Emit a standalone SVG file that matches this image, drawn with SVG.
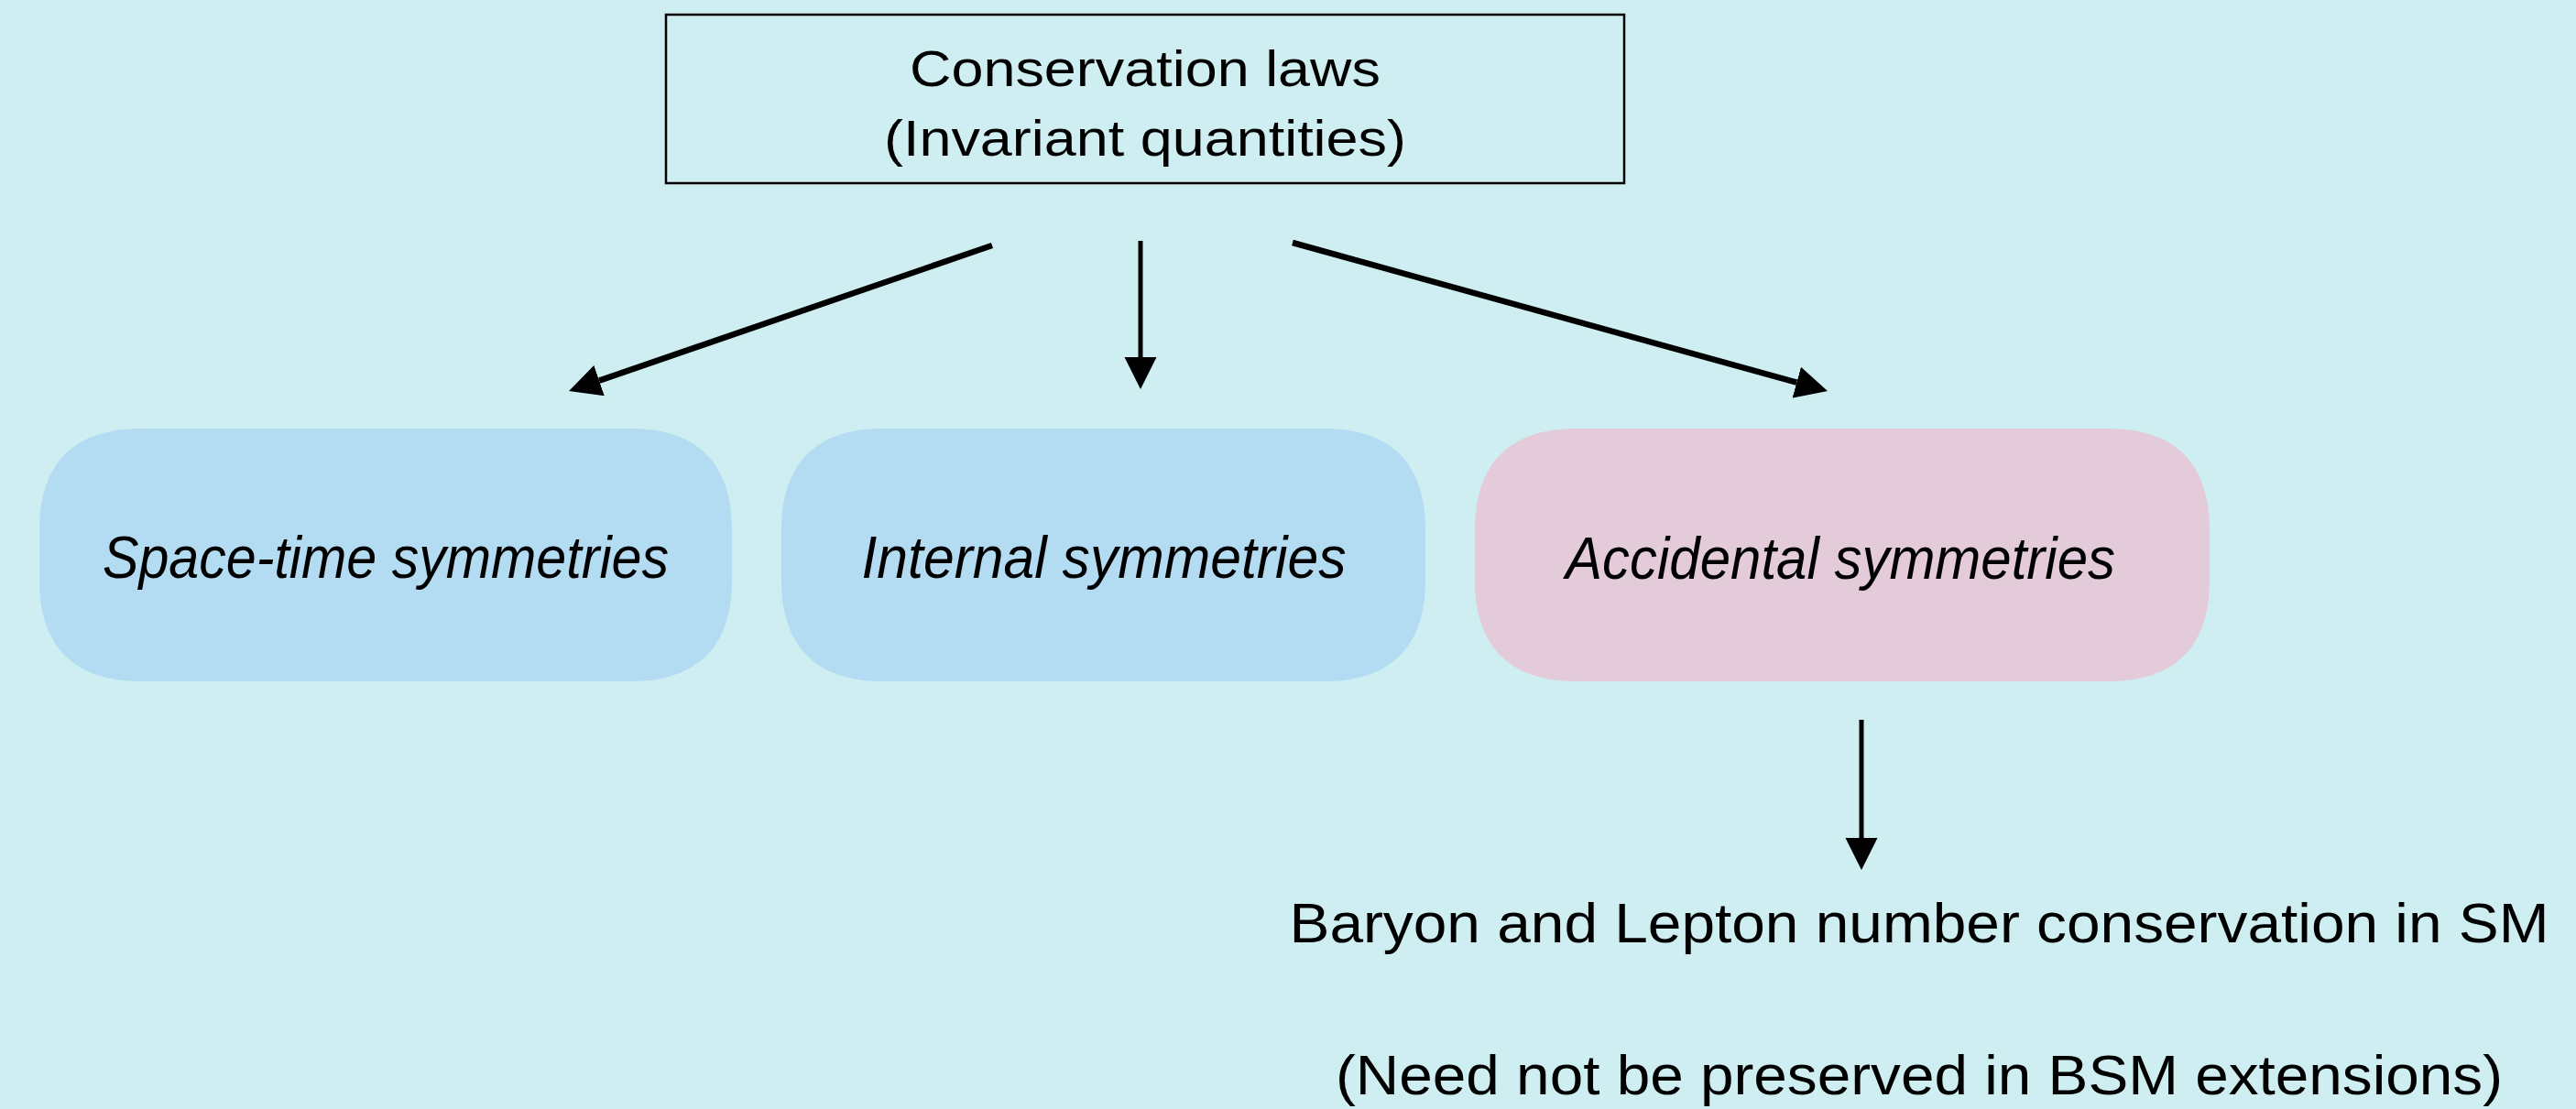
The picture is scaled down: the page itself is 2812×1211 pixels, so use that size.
<svg xmlns="http://www.w3.org/2000/svg" width="2812" height="1211" viewBox="0 0 2812 1211">
  <defs>
    <style>
      .bg { fill: #CFEEF1; }
      .title-box { fill: none; stroke: #000; stroke-width: 2.5; }
      .sym { stroke: none; }
      .sym-blue { fill: #B3DCF3; }
      .sym-pink { fill: #E4CBDA; }
      .label { font-family: "Liberation Sans", Arial, sans-serif; fill: #000; text-anchor: middle; }
      .title { font-size: 56px; }
      .node-label { font-size: 64px; font-style: italic; }
      .note { font-size: 62px; }
      .edge { stroke: #000; fill: none; }
      .edge-diag { stroke-width: 6.5; }
      .edge-vert { stroke-width: 5; }
    </style>
    <!-- Arrowhead: the line ends at the head's base, the head extends 35px forward -->
    <marker id="head" markerUnits="userSpaceOnUse" markerWidth="36" markerHeight="36" refX="0" refY="17.5" orient="auto" viewBox="0 0 36 36">
      <path d="M0,0 L35,17.5 L0,35 Z" fill="#000"/>
    </marker>
  </defs>

  <rect class="bg" x="0" y="0" width="2812" height="1211"/>

  <!-- Root: conservation laws -->
  <g id="conservation-laws">
    <rect class="title-box" x="727" y="16" width="1046" height="184"/>
    <text class="label title" x="1250" y="94" textLength="514" lengthAdjust="spacingAndGlyphs">Conservation laws</text>
    <text class="label title" x="1250" y="170" textLength="570" lengthAdjust="spacingAndGlyphs">(Invariant quantities)</text>
  </g>

  <!-- Symmetry classes (soft squircle-like corners) -->
  <g id="space-time-symmetries">
    <path class="sym sym-blue" d="M153,468 H689 C761,468 799,506 799,578 V634 C799,706 761,744 689,744 H153 C81,744 43,706 43,634 V578 C43,506 81,468 153,468 Z"/>
    <text class="label node-label" x="421" y="631" textLength="618" lengthAdjust="spacingAndGlyphs">Space-time symmetries</text>
  </g>

  <g id="internal-symmetries">
    <path class="sym sym-blue" d="M963,468 H1446 C1518,468 1556,506 1556,578 V634 C1556,706 1518,744 1446,744 H963 C891,744 853,706 853,634 V578 C853,506 891,468 963,468 Z"/>
    <text class="label node-label" x="1205" y="631" textLength="529" lengthAdjust="spacingAndGlyphs">Internal symmetries</text>
  </g>

  <g id="accidental-symmetries">
    <path class="sym sym-pink" d="M1720,468 H2302 C2374,468 2412,506 2412,578 V634 C2412,706 2374,744 2302,744 H1720 C1648,744 1610,706 1610,634 V578 C1610,506 1648,468 1720,468 Z"/>
    <text class="label node-label" x="2009" y="632" textLength="600" lengthAdjust="spacingAndGlyphs">Accidental symmetries</text>
  </g>

  <!-- Consequence of accidental symmetries -->
  <g id="baryon-lepton-conservation">
    <text class="label note" x="2095" y="1029" textLength="1375" lengthAdjust="spacingAndGlyphs">Baryon and Lepton number conservation in SM</text>
    <text class="label note" x="2095" y="1195" textLength="1274" lengthAdjust="spacingAndGlyphs">(Need not be preserved in BSM extensions)</text>
  </g>

  <!-- Connectors -->
  <g id="connectors">
    <line class="edge edge-diag" x1="1083" y1="268" x2="654.1" y2="415.6" marker-end="url(#head)"/>
    <line class="edge edge-vert" x1="1245" y1="263" x2="1245" y2="390" marker-end="url(#head)"/>
    <line class="edge edge-diag" x1="1411" y1="265" x2="1961.3" y2="417.6" marker-end="url(#head)"/>
    <line class="edge edge-vert" x1="2032" y1="786" x2="2032" y2="915" marker-end="url(#head)"/>
  </g>
</svg>
